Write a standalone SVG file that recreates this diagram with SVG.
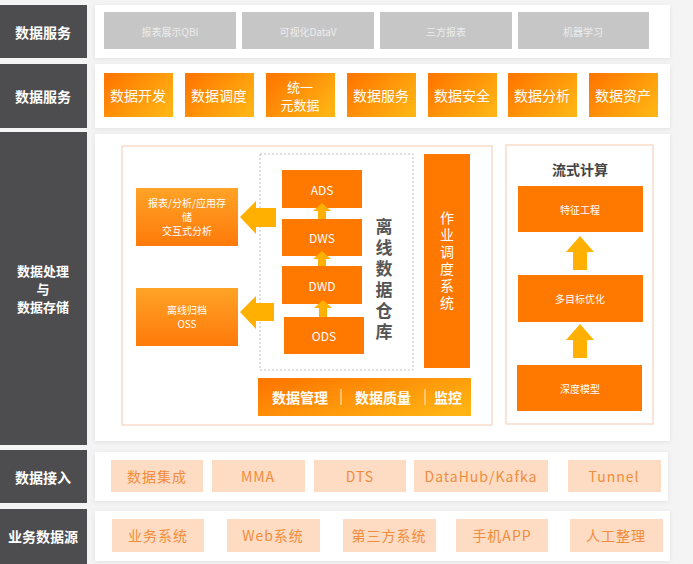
<svg xmlns="http://www.w3.org/2000/svg" width="693" height="564" viewBox="0 0 693 564">
<defs>
<linearGradient id="gO" x1="0" y1="0.2" x2="1" y2="0.8"><stop offset="0" stop-color="#FF7800"/><stop offset="1" stop-color="#FFB414"/></linearGradient>
<linearGradient id="gV" x1="0" y1="0" x2="0" y2="1"><stop offset="0" stop-color="#FFA326"/><stop offset="1" stop-color="#FF7A0A"/></linearGradient>
<filter id="sh" x="-5%" y="-10%" width="110%" height="130%"><feDropShadow dx="0" dy="1" stdDeviation="2" flood-color="#000" flood-opacity="0.08"/></filter>
<style>
text{font-family:"Noto Sans CJK SC","Liberation Sans",sans-serif;text-anchor:middle;dominant-baseline:central}
.lab{fill:#4D4D4F}
.labt{fill:#FFFFFF;font-size:14px;font-weight:bold}
.labs{fill:#FFFFFF;font-size:13px;font-weight:bold}
.panel{fill:#FFFFFF;filter:url(#sh)}
.gray{fill:#C6C6C6}
.grayt{fill:#EDEDED;font-size:10px}
.og{fill:url(#gO)}
.ogt{fill:#FFFFFF;font-size:14px}
.ogs{fill:#FFFFFF;font-size:13px}
.solid{fill:#FF7800}
.solidt{fill:#FFFFFF;font-size:12px}
.lv{fill:url(#gV)}
.lvt{fill:#FFFFFF;font-size:10px}
.peach{fill:#FDDCC3}
.peacht{fill:#F28C3C;font-size:14px;letter-spacing:1px}
.arr{fill:#FFB000}
.dw{fill:#555555;font-size:17px;font-weight:bold;writing-mode:vertical-rl;letter-spacing:4px}
.vt{fill:#FFFFFF;font-size:14px;writing-mode:vertical-rl;letter-spacing:3px}
.mg{fill:#FFFFFF;font-size:14px;font-weight:bold}
</style>
</defs>
<rect x="0" y="0" width="693" height="564" fill="#F4F4F4"/>

<!-- row labels -->
<g id="label-service1"><rect class="lab" x="0" y="5" width="87" height="53"/><text class="labt" x="43" y="32">数据服务</text></g>
<g id="label-service2"><rect class="lab" x="0" y="64" width="87" height="64"/><text class="labt" x="43" y="96">数据服务</text></g>
<g id="label-process"><rect class="lab" x="0" y="132" width="87" height="313"/><text class="labs"><tspan x="43" y="270">数据处理</tspan><tspan x="43" y="288">与</tspan><tspan x="43" y="306">数据存储</tspan></text></g>
<g id="label-ingest"><rect class="lab" x="0" y="450" width="87" height="53"/><text class="labt" x="43" y="477">数据接入</text></g>
<g id="label-source"><rect class="lab" x="0" y="509" width="87" height="55"/><text class="labt" x="43" y="536">业务数据源</text></g>

<!-- panels -->
<rect class="panel" x="95" y="5" width="575" height="53"/>
<rect class="panel" x="95" y="64" width="575" height="64"/>
<rect class="panel" x="95" y="134" width="575" height="307"/>
<rect class="panel" x="95" y="452" width="573" height="49"/>
<rect class="panel" x="95" y="511" width="575" height="50"/>

<!-- row 1 -->
<g id="qbi"><rect class="gray" x="104" y="12" width="132" height="37"/><text class="grayt" x="170" y="31">报表展示QBI</text></g>
<g id="datav"><rect class="gray" x="242" y="12" width="132" height="37"/><text class="grayt" x="308" y="31">可视化DataV</text></g>
<g id="thirdreport"><rect class="gray" x="380" y="12" width="132" height="37"/><text class="grayt" x="446" y="31">三方报表</text></g>
<g id="ml"><rect class="gray" x="518" y="12" width="131" height="37"/><text class="grayt" x="583" y="31">机器学习</text></g>

<!-- row 2 -->
<g id="dev"><rect class="og" x="104" y="73" width="69" height="44"/><text class="ogt" x="138" y="95">数据开发</text></g>
<g id="sched"><rect class="og" x="185" y="73" width="69" height="44"/><text class="ogt" x="219" y="95">数据调度</text></g>
<g id="meta"><rect class="og" x="266" y="73" width="69" height="44"/><text class="ogs"><tspan x="300" y="86">统一</tspan><tspan x="300" y="104">元数据</tspan></text></g>
<g id="dsvc"><rect class="og" x="347" y="73" width="69" height="44"/><text class="ogt" x="381" y="95">数据服务</text></g>
<g id="dsec"><rect class="og" x="428" y="73" width="69" height="44"/><text class="ogt" x="462" y="95">数据安全</text></g>
<g id="dana"><rect class="og" x="508" y="73" width="69" height="44"/><text class="ogt" x="542" y="95">数据分析</text></g>
<g id="dasset"><rect class="og" x="589" y="73" width="69" height="44"/><text class="ogt" x="623" y="95">数据资产</text></g>

<!-- row 3 -->
<rect x="122" y="146" width="370" height="279" fill="#FFFFFF" stroke="#F7D3BC" stroke-width="1.2"/>
<rect x="260" y="154" width="153" height="216" fill="none" stroke="#B0B0B0" stroke-width="0.8" stroke-dasharray="2,2"/>
<g id="app-store"><rect class="lv" x="136" y="188" width="102" height="58"/><text class="lvt"><tspan x="187" y="202">报表/分析/应用存</tspan><tspan x="187" y="216">储</tspan><tspan x="187" y="230">交互式分析</tspan></text></g>
<g id="oss"><rect class="lv" x="136" y="288" width="102" height="58"/><text class="lvt"><tspan x="187" y="309">离线归档</tspan><tspan x="187" y="323">OSS</tspan></text></g>
<g id="ads"><rect class="solid" x="282" y="170" width="80" height="38"/><text class="solidt" x="322" y="189">ADS</text></g>
<g id="dws"><rect class="solid" x="282" y="219" width="80" height="37"/><text class="solidt" x="322" y="237">DWS</text></g>
<g id="dwd"><rect class="solid" x="282" y="266" width="80" height="38"/><text class="solidt" x="322" y="285">DWD</text></g>
<g id="ods"><rect class="solid" x="284" y="317" width="80" height="37"/><text class="solidt" x="324" y="335">ODS</text></g>
<g id="dw-title"><text class="dw" x="384" y="281">离线数据仓库</text></g>
<g id="job-sched"><rect class="solid" x="424" y="154" width="46" height="214"/><text class="vt" x="447" y="262">作业调度系统</text></g>
<g id="mgmt"><rect class="og" x="258" y="378" width="213" height="38"/>
<text class="mg" x="300" y="397">数据管理</text>
<text class="mg" x="383" y="397">数据质量</text>
<text class="mg" x="448" y="397">监控</text>
<line x1="341" y1="389" x2="341" y2="405" stroke="#FFE0B0" stroke-width="1.2"/>
<line x1="425" y1="389" x2="425" y2="405" stroke="#FFE0B0" stroke-width="1.2"/>
</g>

<rect x="506" y="145" width="147" height="279" fill="#FFFFFF" stroke="#F7D3BC" stroke-width="1.2"/>
<g id="stream-title"><text x="580" y="169" fill="#444444" font-size="14" font-weight="bold">流式计算</text></g>
<g id="feat"><rect class="solid" x="518" y="186" width="125" height="46"/><text class="lvt" x="580" y="209">特征工程</text></g>
<g id="multi"><rect class="solid" x="518" y="275" width="125" height="47"/><text class="lvt" x="580" y="298">多目标优化</text></g>
<g id="deep"><rect class="solid" x="517" y="365" width="125" height="46"/><text class="lvt" x="580" y="388">深度模型</text></g>

<!-- connectors -->
<g id="connectors">
<polygon class="arr" points="240,217 256,201 256,208 276,208 276,227 256,227 256,234"/>
<polygon class="arr" points="240,312 256,296 256,303 274,303 274,321 256,321 256,329"/>
<polygon class="arr" points="322,203 331,211 326,211 326,219 318,219 318,211 313,211"/>
<polygon class="arr" points="322,251 331,259 326,259 326,266 318,266 318,259 313,259"/>
<polygon class="arr" points="323,300 332,308 327,308 327,317 319,317 319,308 314,308"/>
<polygon class="arr" points="580,236 594,252 587,252 587,270 573,270 573,252 566,252"/>
<polygon class="arr" points="580,324 594,340 587,340 587,358 573,358 573,340 566,340"/>
</g>

<!-- row 4 -->
<g id="integ"><rect class="peach" x="111" y="460" width="92" height="32"/><text class="peacht" x="157" y="476">数据集成</text></g>
<g id="mma"><rect class="peach" x="212" y="460" width="93" height="32"/><text class="peacht" x="258" y="476">MMA</text></g>
<g id="dts"><rect class="peach" x="314" y="460" width="92" height="32"/><text class="peacht" x="360" y="476">DTS</text></g>
<g id="datahub"><rect class="peach" x="414" y="460" width="134" height="32"/><text class="peacht" x="481" y="476">DataHub/Kafka</text></g>
<g id="tunnel"><rect class="peach" x="568" y="460" width="93" height="32"/><text class="peacht" x="614" y="476">Tunnel</text></g>

<!-- row 5 -->
<g id="bizsys"><rect class="peach" x="112" y="519" width="92" height="33"/><text class="peacht" x="158" y="535">业务系统</text></g>
<g id="websys"><rect class="peach" x="227" y="519" width="93" height="33"/><text class="peacht" x="273" y="535">Web系统</text></g>
<g id="thirdsys"><rect class="peach" x="343" y="519" width="93" height="33"/><text class="peacht" x="389" y="535">第三方系统</text></g>
<g id="mobile"><rect class="peach" x="456" y="519" width="92" height="33"/><text class="peacht" x="502" y="535">手机APP</text></g>
<g id="manual"><rect class="peach" x="570" y="519" width="93" height="33"/><text class="peacht" x="616" y="535">人工整理</text></g>
</svg>
